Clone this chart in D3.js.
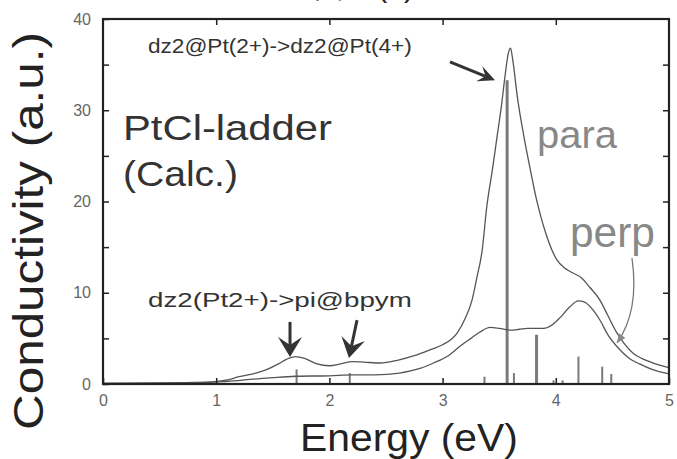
<!DOCTYPE html>
<html>
<head>
<meta charset="utf-8">
<script src="https://cdn.jsdelivr.net/npm/d3@7"></script>
<style>
  html, body { margin: 0; padding: 0; background: #fff; }
  svg { display: block; }
  text { font-family: "Liberation Sans", Arial, Helvetica, sans-serif; }
</style>
</head>
<body>
<svg id="chart" width="677" height="459"></svg>
<script>
// Calculated optical conductivity of the PtCl ladder, two polarisations.
const paraEnergy = [0, 0.5, 0.9, 1.1, 1.2, 1.35, 1.45, 1.55, 1.62, 1.7, 1.78, 1.89, 2.0, 2.1, 2.2, 2.3, 2.45, 2.6, 2.75, 2.9, 3.0, 3.13, 3.2, 3.26, 3.3, 3.35, 3.39, 3.44, 3.48, 3.52, 3.55, 3.58, 3.6, 3.62, 3.66, 3.72, 3.77, 3.83, 3.88, 3.92, 4.01, 4.07, 4.13, 4.23, 4.3, 4.39, 4.46, 4.54, 4.6, 4.68, 4.76, 4.86, 5.0];
const paraValue  = [0.1, 0.12, 0.2, 0.45, 0.8, 1.2, 1.6, 2.2, 2.7, 3.0, 2.8, 2.2, 2.0, 2.2, 2.45, 2.4, 2.3, 2.6, 3.1, 3.8, 4.3, 5.6, 7.2, 9.2, 11.5, 14.7, 19.4, 23.5, 27.0, 30.5, 33.6, 36.2, 36.8, 35.5, 31.5, 27.0, 23.8, 20.2, 17.8, 16.2, 13.6, 12.8, 12.3, 11.6, 10.6, 9.2, 7.5, 5.6, 4.5, 3.4, 2.8, 2.3, 1.8];

const perpEnergy = [0, 0.8, 1.1, 1.3, 1.5, 1.7, 2.0, 2.2, 2.4, 2.62, 2.8, 2.92, 3.05, 3.15, 3.25, 3.33, 3.42, 3.5, 3.6, 3.68, 3.75, 3.89, 3.97, 4.04, 4.12, 4.2, 4.25, 4.33, 4.4, 4.45, 4.57, 4.65, 4.74, 4.85, 5.0];
const perpValue  = [0.05, 0.1, 0.3, 0.5, 0.7, 0.85, 0.9, 1.0, 1.0, 1.2, 1.7, 2.3, 3.1, 4.1, 5.0, 5.7, 6.2, 6.1, 5.9, 6.0, 6.1, 6.1, 6.5, 7.3, 8.4, 9.1, 9.0, 8.1, 6.8, 5.6, 3.7, 2.8, 2.2, 1.6, 1.1];

// Individual transition strengths (stick spectrum)
const stickEnergy = [1.71, 2.18, 3.37, 3.57, 3.63, 3.83, 3.98, 4.06, 4.2, 4.41, 4.49];
const stickValue  = [1.6, 1.2, 0.8, 33.3, 1.2, 5.4, 0.4, 0.4, 3.0, 1.9, 1.1];

const xTicks = [0, 1, 2, 3, 4, 5];
const yTicks = [0, 5, 10, 15, 20, 25, 30, 35, 40];
const yTickLabels = ["0", "", "10", "", "20", "", "30", "", "40"];

const W = 677, H = 459;
const margin = { left: 103, right: 8, top: 19, bottom: 75 };
const svg = d3.select("#chart");

const x = d3.scaleLinear().domain([0, 5]).range([margin.left, W - margin.right]);
const y = d3.scaleLinear().domain([0, 40]).range([H - margin.bottom, margin.top]);

// Fit a text horizontally into a given width (keeping its font size for height)
function fitText(g, str, size, width, fill, anchor) {
  const t = g.append("text").text(str)
    .attr("font-size", size).attr("fill", fill)
    .attr("text-anchor", anchor || "start");
  const w = t.node().getComputedTextLength();
  t.attr("transform", `scale(${width / w},1)`);
  return t;
}

// Figure caption, running off the top edge of the page
svg.append("text")
  .attr("x", 314).attr("y", -3)
  .attr("font-family", "'Noto Sans CJK JP', 'Noto Sans CJK SC', sans-serif")
  .attr("font-size", 30).attr("fill", "#222")
  .text("図 2 (b)");

// Stick spectrum
svg.append("g").selectAll("line")
  .data(stickEnergy.map((e, i) => [e, stickValue[i]]))
  .join("line")
  .attr("x1", d => x(d[0])).attr("x2", d => x(d[0]))
  .attr("y1", y(0)).attr("y2", d => y(d[1]))
  .attr("stroke", "#7a7a7a")
  .attr("stroke-width", d => d[1] > 5 ? 3 : 2);

// Spectra
const line = d3.line().x(d => x(d[0])).y(d => y(d[1])).curve(d3.curveMonotoneX);
const series = [
  paraEnergy.map((e, i) => [e, paraValue[i]]),
  perpEnergy.map((e, i) => [e, perpValue[i]])
];
svg.append("g").selectAll("path")
  .data(series)
  .join("path")
  .attr("d", line)
  .attr("fill", "none")
  .attr("stroke", "#555")
  .attr("stroke-width", 1.3);

// Frame and ticks
const axisG = svg.append("g");
axisG.append("rect")
  .attr("x", x(0)).attr("y", y(40))
  .attr("width", x(5) - x(0)).attr("height", y(0) - y(40))
  .attr("fill", "none").attr("stroke", "#222").attr("stroke-width", 2.2);

const bottomAxis = d3.axisBottom(x).tickValues(xTicks).tickSize(-6).tickPadding(11).tickFormat(d3.format("d"));
const topAxis = d3.axisTop(x).tickValues(xTicks.slice(1, -1)).tickSize(-6).tickFormat("");
const leftAxis = d3.axisLeft(y).tickValues(yTicks).tickSize(-6).tickPadding(12).tickFormat((d, i) => yTickLabels[i]);
const rightAxis = d3.axisRight(y).tickValues(yTicks.slice(1, -1)).tickSize(-6).tickFormat("");

function styleAxis(g) {
  g.select(".domain").remove();
  g.selectAll(".tick line").attr("stroke", "#222").attr("stroke-width", 1.5);
  g.selectAll(".tick text")
    .attr("font-family", "'Liberation Sans', Arial, sans-serif")
    .attr("font-size", 16).attr("fill", "#666");
}
axisG.append("g").attr("transform", `translate(0,${y(0)})`).call(bottomAxis).call(styleAxis);
axisG.append("g").attr("transform", `translate(0,${y(40)})`).call(topAxis).call(styleAxis);
axisG.append("g").attr("transform", `translate(${x(0)},0)`).call(leftAxis).call(styleAxis);
axisG.append("g").attr("transform", `translate(${x(5)},0)`).call(rightAxis).call(styleAxis);

// Axis titles
const xt = svg.append("g").attr("transform", `translate(300,451)`);
fitText(xt, "Energy (eV)", 39, 218, "#222");
const yt = svg.append("g").attr("transform", `translate(43,231) rotate(-90)`);
fitText(yt, "Conductivity (a.u.)", 42, 398, "#222", "middle");

// Panel labels
const lab1 = svg.append("g").attr("transform", `translate(123,140)`);
fitText(lab1, "PtCl-ladder", 35, 209, "#333");
const lab2 = svg.append("g").attr("transform", `translate(123,186)`);
fitText(lab2, "(Calc.)", 35, 115, "#333");

const pl = svg.append("g").attr("transform", `translate(537,148)`);
fitText(pl, "para", 39, 80, "#888");
const pp = svg.append("g").attr("transform", `translate(570,247)`);
fitText(pp, "perp", 42, 85, "#888");

const a1 = svg.append("g").attr("transform", `translate(148,53)`);
fitText(a1, "dz2@Pt(2+)->dz2@Pt(4+)", 20, 264, "#333");
const a2 = svg.append("g").attr("transform", `translate(148,307)`);
fitText(a2, "dz2(Pt2+)->pi@bpym", 20, 264, "#333");

// Annotation arrows, given in data coordinates
const arrows = [
  { from: [3.065, 35.3], to: [3.463, 33.3], len: 17, half: 8 },
  { from: [1.652, 6.8], to: [1.652, 2.96], len: 20, half: 12 },
  { from: [2.244, 7.0], to: [2.173, 2.85], len: 20, half: 12 }
];
function head(g, tip, dir, len, half) {
  const [ux, uy] = dir;
  const bx = tip[0] - ux * len, by = tip[1] - uy * len;
  const nx = -uy, ny = ux;
  g.append("path")
    .attr("d", `M${tip[0]},${tip[1]}L${bx + nx * half},${by + ny * half}L${tip[0] - ux * len * 0.6},${tip[1] - uy * len * 0.6}L${bx - nx * half},${by - ny * half}Z`)
    .attr("fill", "#333");
}
const arrG = svg.append("g");
arrows.forEach(a => {
  const p0 = [x(a.from[0]), y(a.from[1])], p1 = [x(a.to[0]), y(a.to[1])];
  const dx = p1[0] - p0[0], dy = p1[1] - p0[1], L = Math.hypot(dx, dy);
  const dir = [dx / L, dy / L];
  arrG.append("line")
    .attr("x1", p0[0]).attr("y1", p0[1])
    .attr("x2", p1[0] - dir[0] * a.len * 0.6).attr("y2", p1[1] - dir[1] * a.len * 0.6)
    .attr("stroke", "#333").attr("stroke-width", 3);
  head(arrG, p1, dir, a.len, a.half);
});

// Curved pointer from the "perp" label to its curve
const cStart = [x(4.673), y(13.8)], cCtrl = [x(4.74), y(8.0)], cEnd = [x(4.54), y(4.5)];
arrG.append("path")
  .attr("d", `M${cStart}Q${cCtrl} ${cEnd}`)
  .attr("fill", "none").attr("stroke", "#777").attr("stroke-width", 1.3);
{
  const dx = cEnd[0] - cCtrl[0], dy = cEnd[1] - cCtrl[1], L = Math.hypot(dx, dy);
  const dir = [dx / L, dy / L];
  const tip = cEnd, len = 9, half = 4;
  const bx = tip[0] - dir[0] * len, by = tip[1] - dir[1] * len;
  arrG.append("path")
    .attr("d", `M${tip[0]},${tip[1]}L${bx - dir[1] * half},${by + dir[0] * half}L${bx + dir[1] * half},${by - dir[0] * half}Z`)
    .attr("fill", "#888");
}
</script>
</body>
</html>
